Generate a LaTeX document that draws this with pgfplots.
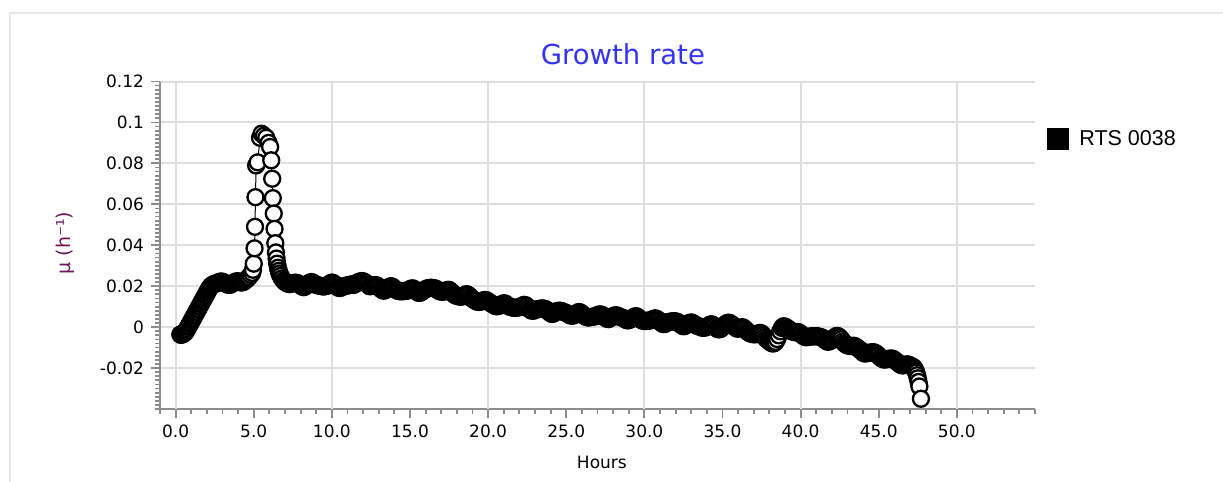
\documentclass[border=0pt]{standalone}
\usepackage{pgfplots}
\pgfplotsset{compat=1.18}
\usepackage{fontspec}
\setmainfont{DejaVu Sans}
\newfontfamily\legfont{Liberation Sans}
\definecolor{titleblue}{RGB}{51,51,255}
\definecolor{ylabpurple}{RGB}{110,20,95}
\definecolor{axgray}{RGB}{140,140,140}
\definecolor{gridgray}{RGB}{222,222,222}
\definecolor{framegray}{RGB}{232,232,232}
\begin{document}
\begin{tikzpicture}
\path[use as bounding box] (0pt,0pt) rectangle (611.5pt,-241pt);
\draw[framegray, line width=1pt] (5pt,-241pt) -- (5pt,-6.25pt) -- (611.5pt,-6.25pt);
\begin{axis}[
  scale only axis,
  width=437.5pt, height=163.75pt,
  at={(80pt,-40.75pt)}, anchor=north west,
  xmin=-1, xmax=55, ymin=-0.04, ymax=0.12,
  axis lines*=left,
  axis line style={axgray, line width=1.35pt},
  tick style={axgray, line width=0.9pt},
  tick align=outside,
  major tick length=4.5pt, minor tick length=2.5pt,
  xtick={0,5,...,50},
  minor xtick={-1,0,...,55},
  ytick={-0.02,0,0.02,0.04,0.06,0.08,0.1,0.12},
  minor ytick={-0.04,-0.038,...,0.1201},
  ymajorgrids,
  grid style={gridgray, line width=1pt},
  extra x ticks={0,10,20,30,40,50},
  extra x tick labels={},
  extra x tick style={grid=major, major tick length=0pt},
  ticklabel style={font=\fontsize{8.5}{10}\selectfont, text=black},
  xticklabel style={/pgf/number format/.cd, fixed, fixed zerofill, precision=1, assume math mode=true},
  yticklabel style={/pgf/number format/.cd, fixed, precision=2, assume math mode=true},
  scaled y ticks=false,
  xlabel={Hours},
  xlabel style={font=\fontsize{8.5}{10}\selectfont, at={(axis description cs:0.505,-0.162)}, anchor=center},
  ylabel={μ (h⁻¹)},
  ylabel style={font=\fontsize{9.5}{11}\selectfont, text=ylabpurple, at={(axis description cs:-0.1086,0.507)}, anchor=center},
  title={Growth rate},
  title style={font=\fontsize{13.75}{16}\selectfont, text=titleblue, at={(axis description cs:0.529,1.047)}, anchor=center},
  legend style={at={(1.0137,0.824)}, anchor=west, draw=none, fill=none, inner sep=0pt,
    font=\legfont\fontsize{10.75}{12}\selectfont, nodes={inner sep=0pt},
    /tikz/every odd column/.append style={column sep=5pt}},
  legend image code/.code={\fill[black] (0pt,-5.25pt) rectangle (10.5pt,5.25pt);},
  legend cell align=left,
  clip=false,
]
\addplot[black, line width=0.5pt, mark=*, mark size=4pt,
  mark options={draw=black, fill=white, line width=1.15pt}] table {
x y
0.30 -0.0036
0.35 -0.0038
0.40 -0.0034
0.45 -0.0035
0.50 -0.0030
0.55 -0.0031
0.60 -0.0024
0.65 -0.0022
0.70 -0.0013
0.75 -0.0009
0.80 0.0001
0.85 0.0005
0.90 0.0015
0.95 0.0019
1.00 0.0029
1.05 0.0033
1.10 0.0043
1.15 0.0047
1.20 0.0057
1.25 0.0061
1.30 0.0071
1.35 0.0075
1.40 0.0085
1.45 0.0089
1.50 0.0099
1.55 0.0103
1.60 0.0113
1.65 0.0117
1.70 0.0127
1.75 0.0131
1.80 0.0141
1.85 0.0145
1.90 0.0155
1.95 0.0159
2.00 0.0169
2.05 0.0173
2.10 0.0182
2.15 0.0188
2.20 0.0195
2.25 0.0199
2.30 0.0204
2.40 0.0209
2.50 0.0212
2.6 0.0213
2.7 0.0217
2.8 0.0221
2.9 0.0223
3.0 0.0222
3.1 0.0218
3.2 0.0213
3.3 0.0208
3.4 0.0206
3.5 0.0207
3.6 0.0211
3.7 0.0216
3.8 0.0221
3.9 0.0224
4.0 0.0224
4.1 0.0221
4.2 0.0218
4.3 0.0219
4.4 0.0224
4.5 0.0230
4.6 0.0237
4.7 0.0245
4.8 0.0255
4.9 0.0265
4.95 0.0280
5.00 0.0310
5.05 0.0385
5.08 0.0490
5.11 0.0635
5.15 0.0790
5.25 0.0805
5.40 0.0925
5.50 0.0945
5.65 0.0935
5.80 0.0925
5.95 0.0900
6.05 0.0880
6.12 0.0815
6.18 0.0725
6.22 0.0630
6.28 0.0555
6.33 0.0480
6.38 0.0410
6.42 0.0365
6.46 0.0335
6.50 0.0310
6.55 0.0290
6.60 0.0275
6.65 0.0262
6.72 0.0250
6.80 0.0238
6.90 0.0228
7.00 0.0220
7.10 0.0215
7.20 0.0212
7.3 0.0210
7.4 0.0212
7.5 0.0214
7.6 0.0217
7.7 0.0217
7.8 0.0215
7.9 0.0211
8.0 0.0204
8.1 0.0198
8.2 0.0195
8.3 0.0199
8.4 0.0206
8.5 0.0213
8.6 0.0218
8.7 0.0220
8.8 0.0217
8.9 0.0211
9.0 0.0206
9.1 0.0204
9.2 0.0203
9.3 0.0201
9.4 0.0199
9.5 0.0199
9.6 0.0200
9.7 0.0202
9.8 0.0207
9.9 0.0214
10.0 0.0218
10.1 0.0215
10.2 0.0208
10.3 0.0200
10.4 0.0193
10.5 0.0191
10.6 0.0193
10.7 0.0198
10.8 0.0201
10.9 0.0202
11.0 0.0203
11.1 0.0206
11.2 0.0208
11.3 0.0208
11.4 0.0206
11.5 0.0211
11.6 0.0216
11.7 0.0220
11.8 0.0223
11.9 0.0225
12.0 0.0224
12.1 0.0220
12.2 0.0214
12.3 0.0208
12.4 0.0200
12.5 0.0200
12.6 0.0202
12.7 0.0205
12.8 0.0205
12.9 0.0203
13.0 0.0197
13.1 0.0189
13.2 0.0182
13.3 0.0178
13.4 0.0180
13.5 0.0186
13.6 0.0193
13.7 0.0198
13.8 0.0200
13.9 0.0196
14.0 0.0189
14.1 0.0183
14.2 0.0178
14.3 0.0176
14.4 0.0175
14.5 0.0175
14.6 0.0176
14.7 0.0177
14.8 0.0178
14.9 0.0180
15.0 0.0185
15.1 0.0189
15.2 0.0189
15.3 0.0184
15.4 0.0176
15.5 0.0169
15.6 0.0167
15.7 0.0169
15.8 0.0175
15.9 0.0181
16.0 0.0186
16.1 0.0189
16.2 0.0191
16.3 0.0192
16.4 0.0192
16.5 0.0191
16.6 0.0189
16.7 0.0186
16.8 0.0180
16.9 0.0175
17.0 0.0173
17.1 0.0173
17.2 0.0174
17.3 0.0177
17.4 0.0182
17.5 0.0182
17.6 0.0176
17.7 0.0168
17.8 0.0161
17.9 0.0155
18.0 0.0153
18.1 0.0150
18.2 0.0149
18.3 0.0149
18.4 0.0151
18.5 0.0156
18.6 0.0161
18.7 0.0159
18.8 0.0152
18.9 0.0144
19.0 0.0138
19.1 0.0133
19.2 0.0128
19.3 0.0124
19.4 0.0123
19.5 0.0124
19.6 0.0127
19.7 0.0131
19.8 0.0133
19.9 0.0131
20.0 0.0126
20.1 0.0120
20.2 0.0115
20.3 0.0111
20.4 0.0106
20.5 0.0102
20.6 0.0102
20.7 0.0104
20.8 0.0108
20.9 0.0113
21.0 0.0117
21.1 0.0115
21.2 0.0109
21.3 0.0103
21.4 0.0099
21.5 0.0097
21.6 0.0095
21.7 0.0094
21.8 0.0095
21.9 0.0096
22.0 0.0097
22.1 0.0100
22.2 0.0105
22.3 0.0109
22.4 0.0107
22.5 0.0101
22.6 0.0092
22.7 0.0084
22.8 0.0080
22.9 0.0080
23.0 0.0084
23.1 0.0087
23.2 0.0088
23.3 0.0089
23.4 0.0091
23.5 0.0091
23.6 0.0090
23.7 0.0087
23.8 0.0081
23.9 0.0074
24.0 0.0067
24.1 0.0064
24.2 0.0067
24.3 0.0073
24.4 0.0078
24.5 0.0080
24.6 0.0080
24.7 0.0079
24.8 0.0075
24.9 0.0072
25.0 0.0069
25.1 0.0065
25.2 0.0060
25.3 0.0056
25.4 0.0056
25.5 0.0058
25.6 0.0063
25.7 0.0069
25.8 0.0074
25.9 0.0072
26.0 0.0066
26.1 0.0059
26.2 0.0053
26.3 0.0049
26.4 0.0047
26.5 0.0048
26.6 0.0050
26.7 0.0051
26.8 0.0052
26.9 0.0054
27.0 0.0058
27.1 0.0062
27.2 0.0062
27.3 0.0059
27.4 0.0053
27.5 0.0046
27.6 0.0041
27.7 0.0039
27.8 0.0043
27.9 0.0049
28.0 0.0054
28.1 0.0057
28.2 0.0058
28.3 0.0055
28.4 0.0051
28.5 0.0048
28.6 0.0046
28.7 0.0043
28.8 0.0037
28.9 0.0033
29.0 0.0034
29.1 0.0037
29.2 0.0042
29.3 0.0048
29.4 0.0053
29.5 0.0053
29.6 0.0048
29.7 0.0041
29.8 0.0035
29.9 0.0031
30.0 0.0030
30.1 0.0030
30.2 0.0031
30.3 0.0032
30.4 0.0033
30.5 0.0036
30.6 0.0041
30.7 0.0043
30.8 0.0040
30.9 0.0034
31.0 0.0027
31.1 0.0020
31.2 0.0015
31.3 0.0015
31.4 0.0020
31.5 0.0024
31.6 0.0026
31.7 0.0027
31.8 0.0028
31.9 0.0029
32.0 0.0028
32.1 0.0026
32.2 0.0021
32.3 0.0014
32.4 0.0008
32.5 0.0004
32.6 0.0006
32.7 0.0011
32.8 0.0017
32.9 0.0021
33.0 0.0023
33.1 0.0020
33.2 0.0014
33.3 0.0009
33.4 0.0006
33.5 0.0004
33.6 0.0000
33.7 -0.0003
33.8 -0.0003
33.9 -0.0002
34.0 0.0001
34.1 0.0006
34.2 0.0012
34.3 0.0014
34.4 0.0010
34.5 0.0003
34.6 -0.0005
34.7 -0.0010
34.8 -0.0011
34.9 -0.0008
35.0 0.0000
35.1 0.0008
35.2 0.0015
35.3 0.0020
35.4 0.0022
35.5 0.0019
35.6 0.0013
35.7 0.0006
35.8 -0.0001
35.9 -0.0006
36.0 -0.0008
36.1 -0.0005
36.2 -0.0001
36.3 -0.0001
36.4 -0.0006
36.5 -0.0014
36.6 -0.0022
36.7 -0.0028
36.8 -0.0031
36.9 -0.0034
37.0 -0.0035
37.1 -0.0035
37.2 -0.0034
37.3 -0.0031
37.4 -0.0028
37.5 -0.0031
37.6 -0.0039
37.7 -0.0048
37.8 -0.0057
37.9 -0.0064
38.0 -0.0070
38.1 -0.0076
38.2 -0.0080
38.3 -0.0079
38.4 -0.0072
38.5 -0.0058
38.6 -0.0040
38.7 -0.0020
38.8 -0.0004
38.9 0.0004
39.0 0.0003
39.1 -0.0002
39.2 -0.0008
39.3 -0.0014
39.4 -0.0019
39.5 -0.0022
39.6 -0.0025
39.7 -0.0024
39.8 -0.0024
39.9 -0.0026
40.0 -0.0032
40.1 -0.0039
40.2 -0.0045
40.3 -0.0049
40.4 -0.0049
40.5 -0.0048
40.6 -0.0046
40.7 -0.0045
40.8 -0.0045
40.9 -0.0045
41.0 -0.0044
41.1 -0.0045
41.2 -0.0047
41.3 -0.0049
41.4 -0.0052
41.5 -0.0058
41.6 -0.0066
41.7 -0.0071
41.8 -0.0071
41.9 -0.0068
42.0 -0.0063
42.1 -0.0056
42.2 -0.0048
42.3 -0.0043
42.4 -0.0044
42.5 -0.0050
42.6 -0.0059
42.7 -0.0070
42.8 -0.0079
42.9 -0.0086
43.0 -0.0089
43.1 -0.0091
43.2 -0.0092
43.3 -0.0092
43.4 -0.0091
43.5 -0.0094
43.6 -0.0099
43.7 -0.0105
43.8 -0.0111
43.9 -0.0118
44.0 -0.0125
44.1 -0.0129
44.2 -0.0128
44.3 -0.0126
44.4 -0.0125
44.5 -0.0124
44.6 -0.0123
44.7 -0.0123
44.8 -0.0127
44.9 -0.0133
45.0 -0.0140
45.1 -0.0148
45.2 -0.0154
45.3 -0.0158
45.4 -0.0158
45.5 -0.0157
45.6 -0.0156
45.7 -0.0154
45.8 -0.0153
45.9 -0.0155
46.0 -0.0160
46.1 -0.0166
46.2 -0.0172
46.3 -0.0178
46.4 -0.0184
46.5 -0.0187
46.6 -0.0186
46.7 -0.0184
46.8 -0.0182
46.9 -0.0183
47.0 -0.0188
47.1 -0.0191
47.2 -0.0195
47.25 -0.0199
47.30 -0.0205
47.35 -0.0213
47.40 -0.0222
47.45 -0.0235
47.50 -0.0250
47.55 -0.0268
47.60 -0.0290
47.70 -0.0350
};
\addlegendentry{RTS 0038}
\end{axis}
\end{tikzpicture}
\end{document}
